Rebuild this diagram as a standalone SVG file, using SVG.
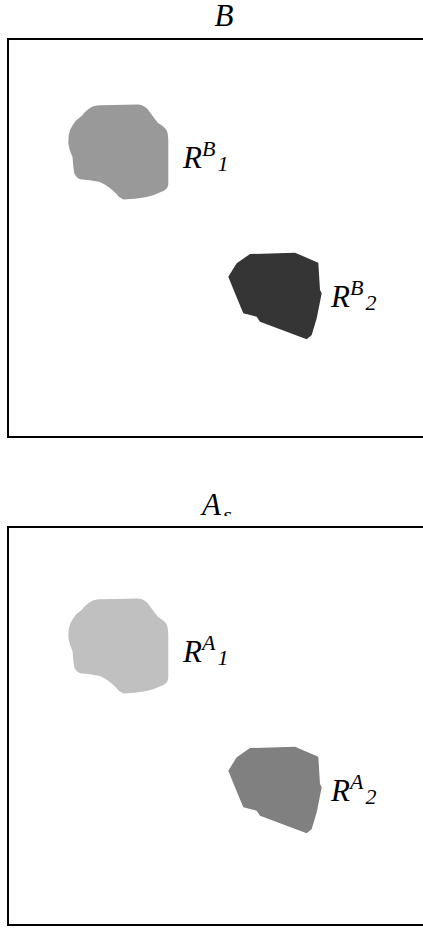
<svg xmlns="http://www.w3.org/2000/svg" width="423" height="928" viewBox="0 0 423 928">
<style>
.frame{fill:none;stroke:#000;stroke-width:2}
.t{font-family:"Liberation Serif","Times New Roman",serif;font-style:italic;fill:#000}
.big{font-size:31px}
.sm{font-size:22px}
</style>
<defs>
<path id="blob1" d="M81.7,116 Q86,110 91,107.5 Q94,105.5 100,105.3 L138,104.5 Q145,105 149,111 Q154,118 158,123 Q165,127 167,131 Q168.5,136 168.3,145 L168.3,184 Q168,189 163.3,191 Q155,195 146.7,197 Q135,199 123.3,199.5 Q119,198 116,193.5 Q110,187 100,182 Q90,180 80,179.3 Q75,177 74,172 Q73,165 72.5,157 Q69,150 68.3,143.3 Q68,136 70,130 Q73,124 76,120.5 Z"/>
<path id="blob2" d="M228.3,276.7 L236.7,263.3 L250,254 L295,252.7 L318.3,262.7 L320,290 L321.7,293.3 L316.7,318.3 L311.7,335 L306.7,339.3 L300,336.7 L260,321.7 L256.7,316.7 L243.3,313.3 L235,293.3 Z"/>
<clipPath id="clipAs"><rect x="0" y="0" width="423" height="516"/></clipPath>
</defs>
<g id="panel-B">
<text class="t big" x="224" y="26" text-anchor="middle">B</text>
<rect class="frame" x="8" y="39" width="420" height="398"/>
<g id="RB1"><use href="#blob1" fill="#999999"/>
<text class="t" x="183" y="168"><tspan class="big">R</tspan><tspan class="sm" dy="-12">B</tspan><tspan class="sm" dx="2" dy="15">1</tspan></text></g>
<g id="RB2"><use href="#blob2" fill="#353535"/>
<text class="t" x="331" y="307"><tspan class="big">R</tspan><tspan class="sm" dy="-12">B</tspan><tspan class="sm" dx="2" dy="15">2</tspan></text></g>
</g>
<g id="panel-A">
<g clip-path="url(#clipAs)"><text class="t" x="202" y="515"><tspan class="big">A</tspan><tspan class="sm" dx="2" dy="7">s</tspan></text></g>
<rect class="frame" x="8" y="527" width="420" height="398"/>
<g id="RA1" transform="translate(0,494)"><use href="#blob1" fill="#c0c0c0"/>
<text class="t" x="183" y="168"><tspan class="big">R</tspan><tspan class="sm" dy="-12">A</tspan><tspan class="sm" dx="2" dy="15">1</tspan></text></g>
<g id="RA2" transform="translate(0,494)"><use href="#blob2" fill="#808080"/>
<text class="t" x="331" y="307"><tspan class="big">R</tspan><tspan class="sm" dy="-12">A</tspan><tspan class="sm" dx="2" dy="15">2</tspan></text></g>
</g>
</svg>
